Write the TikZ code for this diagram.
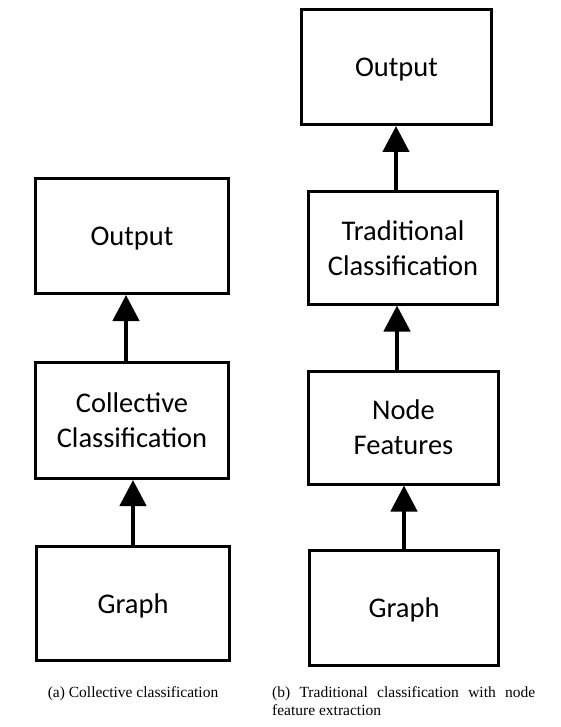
\documentclass[tikz,border=0pt]{standalone}
\usepackage{fontspec}
\setmainfont{Carlito}
\newfontfamily\capfont{Liberation Serif}
\usetikzlibrary{arrows.meta}
\tikzset{
  blockbox/.style={draw=black, line width=3pt, rectangle, align=center, inner sep=0pt,
    font=\fontsize{28.5}{35}\selectfont},
  oneline/.style={text depth=0pt},
  upar/.style={line width=4.5pt, -{Triangle[width=26pt,length=26pt]}},
  captext/.style={font=\capfont\fontsize{15.5}{18.5}\selectfont, inner sep=0pt}
}
\begin{document}
\begin{tikzpicture}[x=1pt,y=-1pt]
\useasboundingbox (0,0) rectangle (560,727);
% left column
\node[blockbox, oneline, minimum width=193pt, minimum height=115pt] (lo) at (132,236) {Output};
\node[blockbox, minimum width=193pt, minimum height=116pt] (lc) at (132,420.5) {Collective\\Classification};
\node[blockbox, oneline, minimum width=193pt, minimum height=114pt] (lg) at (133,603.5) {Graph};
% right column
\node[blockbox, oneline, minimum width=190pt, minimum height=115pt] (ro) at (396.5,67) {Output};
\node[blockbox, minimum width=189pt, minimum height=112pt] (rt) at (403,248) {Traditional\\Classification};
\node[blockbox, minimum width=190pt, minimum height=113pt] (rn) at (403.5,427.5) {Node\\Features};
\node[blockbox, oneline, minimum width=189pt, minimum height=115pt] (rg) at (404,608) {Graph};
% arrows
\draw[upar] ([xshift=-6pt]lc.north) -- ([xshift=-6pt]lo.south);
\draw[upar] ([xshift=0pt]lg.north) -- ([xshift=1pt]lc.south);
\draw[upar] ([xshift=-7pt]rt.north) -- ([xshift=-0.5pt]ro.south);
\draw[upar] ([xshift=-6.5pt]rn.north) -- ([xshift=-6pt]rt.south);
\draw[upar] ([xshift=0pt]rg.north) -- ([xshift=0.5pt]rn.south);
% captions
\node[captext, anchor=base] (capa) at (133,697) {(a) Collective classification};
\node[captext, anchor=base west] (capb1) at (272,697) {\makebox[263pt][s]{(b) Traditional classification with node}};
\node[captext, anchor=base west] (capb2) at (272,715) {feature extraction};
\end{tikzpicture}
\end{document}
